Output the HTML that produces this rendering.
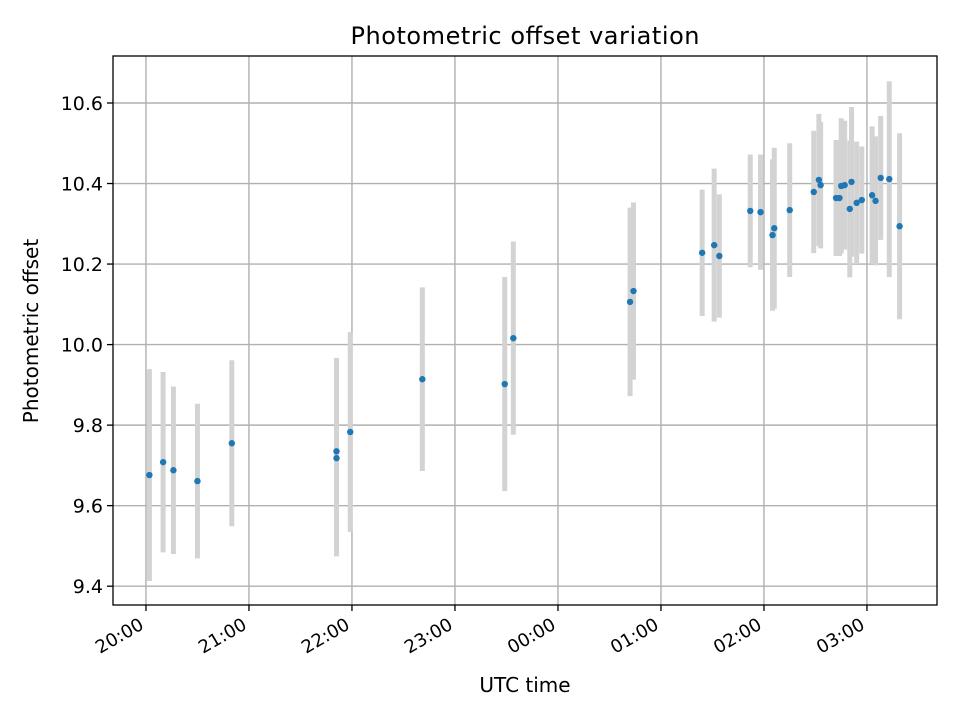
<!DOCTYPE html>
<html><head><meta charset="utf-8"><style>
body{margin:0;background:#fff}
svg{display:block;font-family:"DejaVu Sans","Liberation Sans",sans-serif}
</style></head><body>
<svg id="chart" width="960" height="720" viewBox="0 0 960 720" xmlns="http://www.w3.org/2000/svg">
<rect width="960" height="720" fill="#fff"/>
<g id="grid"></g>
<g id="errs"></g>
<g id="pts"></g>
<rect x="113" y="56" width="824" height="549" fill="none" stroke="#000" stroke-width="1.3"/>
<g id="xt"></g>
<g id="yt"></g>
<text x="525" y="44" text-anchor="middle" font-size="24" textLength="349">Photometric offset variation</text>
<text x="525" y="692" text-anchor="middle" font-size="20">UTC time</text>
<text transform="translate(38,331) rotate(-90)" text-anchor="middle" font-size="20">Photometric offset</text>
</svg>
<script>
const times = ["20:02","20:10","20:16","20:30","20:50","21:51","21:51","21:59","22:41","23:29","23:34","00:42","00:44","01:24","01:31","01:34","01:52","01:58","02:05","02:06","02:15","02:29","02:32","02:33","02:42","02:44","02:45","02:47","02:51","02:50","02:54","02:57","03:03","03:05","03:08","03:13","03:19"];
const offsets = [9.676,9.708,9.688,9.661,9.755,9.735,9.718,9.783,9.914,9.902,10.016,10.106,10.133,10.228,10.247,10.22,10.332,10.329,10.272,10.289,10.334,10.379,10.409,10.396,10.364,10.364,10.394,10.396,10.404,10.337,10.352,10.359,10.371,10.357,10.414,10.411,10.294];
const errors = [0.263,0.224,0.208,0.192,0.206,0.232,0.244,0.248,0.228,0.266,0.24,0.234,0.22,0.157,0.19,0.153,0.14,0.143,0.188,0.2,0.166,0.152,0.164,0.157,0.144,0.144,0.168,0.16,0.186,0.17,0.152,0.133,0.171,0.16,0.154,0.243,0.231];
const xTickLabels = ["20:00","21:00","22:00","23:00","00:00","01:00","02:00","03:00"];
const yTickValues = [9.4,9.6,9.8,10.0,10.2,10.4,10.6];

const NS="http://www.w3.org/2000/svg";
const L=113,R=937,T=56,B=605;
const xMin=-0.32,xMax=7.68,yMin=9.3533,yMax=10.7167;
function hrs(s){let [h,m]=s.split(":").map(Number);if(h<12)h+=24;return h-20+m/60;}
function xs(h){return L+(h-xMin)/(xMax-xMin)*(R-L);}
function ys(v){return B-(v-yMin)/(yMax-yMin)*(B-T);}
function mk(tag,at,parent){const e=document.createElementNS(NS,tag);for(const k in at)e.setAttribute(k,at[k]);parent.appendChild(e);return e;}
const grid=document.getElementById('grid'),xt=document.getElementById('xt'),yt=document.getElementById('yt');
xTickLabels.forEach(lbl=>{
  const x=xs(hrs(lbl));
  const g=mk('line',{x1:x,x2:x,y1:T,y2:B,stroke:'#b0b0b0','stroke-width':1.4},grid);
  
  const t=mk('line',{x1:x,x2:x,y1:B,y2:B+6,stroke:'#000','stroke-width':1.3},xt);
  
  const tx=mk('text',{x:0,y:0,'text-anchor':'end','font-size':18,transform:`translate(${x-1},${B+23}) rotate(-30)`},xt);
  tx.textContent=lbl;
  
});
yTickValues.forEach(v=>{
  const y=ys(v);
  const g=mk('line',{x1:L,x2:R,y1:y,y2:y,stroke:'#b0b0b0','stroke-width':1.4},grid);
  
  const t=mk('line',{x1:L-6,x2:L,y1:y,y2:y,stroke:'#000','stroke-width':1.3},yt);
  
  const tx=mk('text',{x:L-10,y:y+7,'text-anchor':'end','font-size':19},yt);
  tx.textContent=v.toFixed(1);
  
});
const errs=document.getElementById('errs'),pts=document.getElementById('pts');
times.forEach((t,i)=>{
  const x=xs(hrs(t));
  const e=mk('line',{x1:x,x2:x,y1:ys(offsets[i]+errors[i]),y2:ys(offsets[i]-errors[i]),stroke:'#d3d3d3','stroke-width':5},errs);
  
  const c=mk('circle',{cx:x,cy:ys(offsets[i]),r:3.2,fill:'#1f77b4'},pts);
  
});
</script>
</body></html>
